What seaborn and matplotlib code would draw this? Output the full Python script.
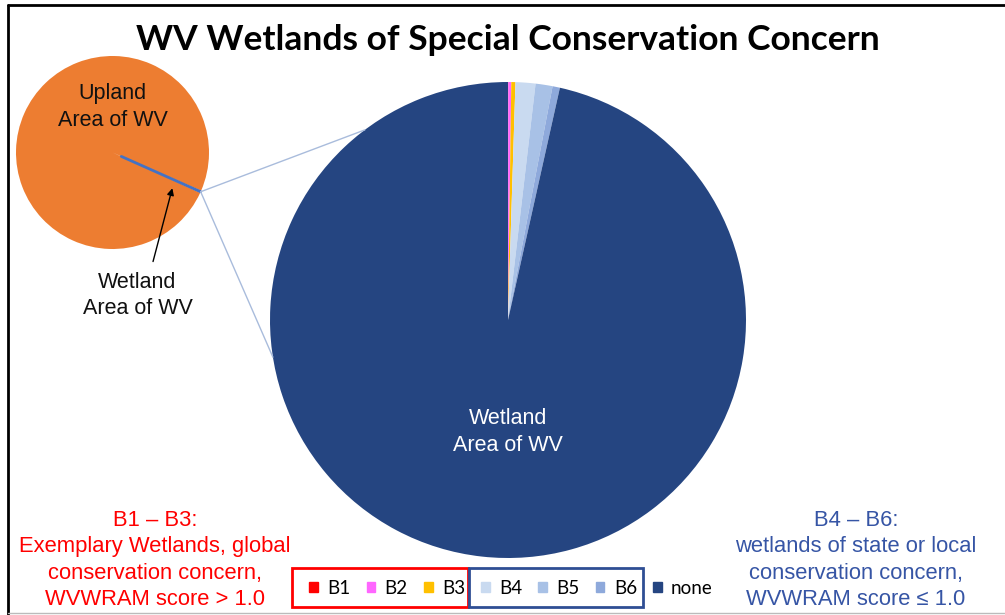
import numpy as np
import matplotlib
matplotlib.use("Agg")
import matplotlib.pyplot as plt
import seaborn as sns
from matplotlib.patches import Rectangle, ConnectionPatch
from matplotlib.lines import Line2D

# data (percent of area)
classes = ["B1", "B2", "B3", "B4", "B5", "B6", "none"]
wetland_share = [0.02, 0.2, 0.28, 1.35, 1.15, 0.5, 96.5]
class_colors = ["#FF0000", "#FF66FF", "#FFC000", "#C9DAF0", "#A8C1E6", "#8EA9DB", "#254581"]

state_parts = ["Wetland", "Upland"]
state_share = [0.4, 99.6]
state_colors = ["#4472C4", "#ED7D31"]

sns.set_theme(style="white")
plt.rcParams["font.family"] = ["Liberation Sans", "DejaVu Sans"]
plt.rcParams["text.color"] = "black"

W, H = 1005, 615
fig = plt.figure(figsize=(W / 100, H / 100), dpi=100)


def px_axes(x, y, w, h):
    # pixel box (top-left origin) -> figure axes
    return fig.add_axes([x / W, 1 - (y + h) / H, w / W, h / H])


# main pie (wetland classes)
ax = px_axes(270, 82, 476, 476)
ax.pie(wetland_share, colors=class_colors, startangle=90, counterclock=False,
       wedgeprops=dict(linewidth=0))
ax.set_xlim(-1, 1)
ax.set_ylim(-1, 1)
ax.axis("off")
ax.text(0, -0.47, "Wetland\nArea of WV", color="white", ha="center", va="center",
        fontsize=15.5, linespacing=1.38)

# small pie (whole state)
ax2 = px_axes(16, 56, 193, 193)
wet_angle = -24
start = wet_angle - state_share[0] / 100 * 360 / 2
ax2.pie(state_share, colors=state_colors, startangle=start, wedgeprops=dict(linewidth=0))
ax2.set_xlim(-1, 1)
ax2.set_ylim(-1, 1)
ax2.axis("off")
ax2.text(0, 0.47, "Upland\nArea of WV", ha="center", va="center", fontsize=15.5,
         color="#111111", linespacing=1.35)

# blue line showing wetland slice
a = np.deg2rad(wet_angle)
ax2.plot([0.1 * np.cos(a), np.cos(a)], [0.1 * np.sin(a), np.sin(a)], color="#4472C4", lw=2)
edge = (np.cos(a), np.sin(a))

# connector lines to big pie
for ang in (127, 189):
    r = np.deg2rad(ang)
    con = ConnectionPatch(xyA=edge, coordsA=ax2.transData,
                          xyB=(np.cos(r), np.sin(r)), coordsB=ax.transData,
                          color="#A9BCDC", lw=1)
    fig.add_artist(con)

# wetland annotation on small pie
ax2.annotate("", xy=(0.62, -0.37), xytext=(0.42, -1.13),
             arrowprops=dict(arrowstyle="-|>", color="black", lw=1, mutation_scale=10,
                             shrinkA=0, shrinkB=0),
             annotation_clip=False)
ax2.text(0.26, -1.48, "Wetland\nArea of WV", ha="center", va="center", fontsize=15.5,
         color="#111111", linespacing=1.35, clip_on=False)

# title
fig.text(508 / W, 1 - 40 / H, "WV Wetlands of Special Conservation Concern",
         ha="center", va="center", fontsize=25.5, fontweight="bold", color="black",
         family=["Lato", "DejaVu Sans"])

# side notes
fig.text(155 / W, 1 - 560 / H,
         "B1 – B3:\nExemplary Wetlands, global\nconservation concern,\nWVWRAM score > 1.0",
         ha="center", va="center", fontsize=15.8, color="#FF0000", linespacing=1.33)
fig.text(856 / W, 1 - 560 / H,
         "B4 – B6:\nwetlands of state or local\nconservation concern,\nWVWRAM score ≤ 1.0",
         ha="center", va="center", fontsize=15.8, color="#3655A5", linespacing=1.33)

# legend
handles = [Rectangle((0, 0), 1, 1, color=c) for c in class_colors]
leg = fig.legend(handles, classes, loc="center", bbox_to_anchor=(511 / W, 1 - 588 / H),
                 ncol=7, frameon=False, handlelength=0.47, handleheight=0.47,
                 handletextpad=0.5, columnspacing=0.85,
                 prop=dict(family=["Lato", "DejaVu Sans"], size=13.5))
for t in leg.get_texts():
    t.set_color("black")

# group boxes
fig.add_artist(Rectangle((292 / W, 1 - 607 / H), 176 / W, 39 / H, transform=fig.transFigure,
                         fill=False, edgecolor="#FF0000", lw=2))
fig.add_artist(Rectangle((469 / W, 1 - 607 / H), 174 / W, 39 / H, transform=fig.transFigure,
                         fill=False, edgecolor="#2F4E94", lw=2))

# slide frame
fig.add_artist(Line2D([8 / W, 8 / W], [0, 1 - 5 / H], transform=fig.transFigure, color="black", lw=2))
fig.add_artist(Line2D([8 / W, 1], [1 - 5 / H, 1 - 5 / H], transform=fig.transFigure, color="black", lw=2))
fig.add_artist(Line2D([8 / W, 1], [1 - 613 / H, 1 - 613 / H], transform=fig.transFigure,
                      color="#BBBBBB", lw=1))

fig.savefig("out.png", dpi=100)
